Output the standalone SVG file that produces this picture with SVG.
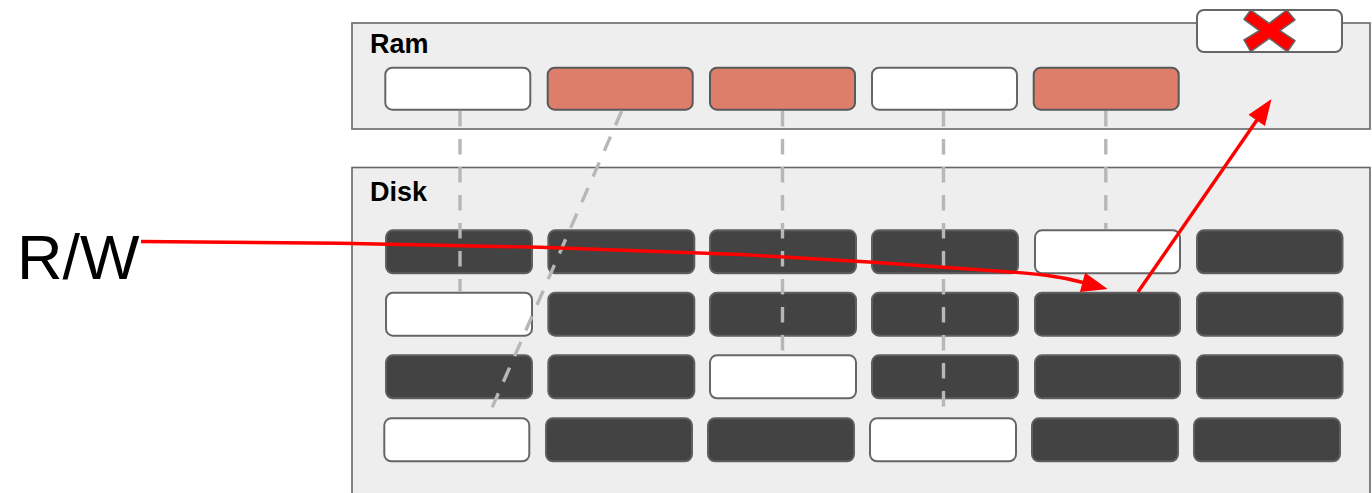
<svg xmlns="http://www.w3.org/2000/svg" width="1372" height="493" viewBox="0 0 1372 493">
<style>
.frame{fill:#eeeeee;stroke:#666666;stroke-width:1.6}
.lbl{font-family:"Liberation Sans",Arial,sans-serif;font-weight:bold;font-size:27px;fill:#000}
.w{fill:#ffffff;stroke:#666666;stroke-width:2}
.r{fill:#dd7e6b;stroke:#595959;stroke-width:2}
.d{fill:#434343;stroke:#5f5f5f;stroke-width:2}
.dash{stroke:#b7b7b7;stroke-width:3.4;stroke-dasharray:15.5 12.5;fill:none}
.red{stroke:#ff0000;stroke-width:3.4;fill:none}
</style>
<defs>
<marker id="ah" markerUnits="userSpaceOnUse" markerWidth="30" markerHeight="24" refX="0.5" refY="10" orient="auto" overflow="visible">
<path d="M0,0 L26,10 L0,20 Z" fill="#ff0000"/>
</marker>
</defs>
<g id="ram">
<rect class="frame" x="352" y="23" width="1018" height="106"/>
<text class="lbl" x="370" y="53">Ram</text>
</g>
<g id="disk">
<rect class="frame" x="352" y="167.5" width="1018" height="340"/>
<text class="lbl" x="370" y="201">Disk</text>
</g>
<g id="ram-blocks">
<rect id="ram1" class="w" x="385.3" y="67.7" width="145" height="42" rx="7"/>
<rect id="ram2" class="r" x="547.7" y="67.7" width="145" height="42" rx="7"/>
<rect id="ram3" class="r" x="710" y="67.7" width="145" height="42" rx="7"/>
<rect id="ram4" class="w" x="872" y="67.7" width="145" height="42" rx="7"/>
<rect id="ram5" class="r" x="1033.7" y="67.7" width="145" height="42" rx="7"/>
</g>
<g id="evicted">
<rect class="w" x="1197" y="10" width="145" height="42" rx="7"/>
<polygon points="1250.7,10 1269.3,23.3 1286.7,10 1295,20 1280,30.7 1295,40.7 1287.3,51.7 1269.3,38.3 1250.7,51.7 1244,40 1259.3,30.7 1244,19.3" fill="#ff0000" stroke="#666666" stroke-width="1.5" stroke-linejoin="round"/>
</g>
<g id="disk-blocks">
<rect id="d11" class="d" x="386" y="230.3" width="146" height="43" rx="7"/>
<rect id="d12" class="d" x="548.3" y="230.3" width="146" height="43" rx="7"/>
<rect id="d13" class="d" x="710" y="230.3" width="146" height="43" rx="7"/>
<rect id="d14" class="d" x="872" y="230.3" width="146" height="43" rx="7"/>
<rect id="d15" class="w" x="1035" y="230.3" width="145" height="43" rx="7"/>
<rect id="d16" class="d" x="1197" y="230.3" width="145.5" height="43" rx="7"/>

<rect id="d21" class="w" x="386" y="292.7" width="146" height="43" rx="7"/>
<rect id="d22" class="d" x="548.3" y="292.7" width="146" height="43" rx="7"/>
<rect id="d23" class="d" x="710" y="292.7" width="146" height="43" rx="7"/>
<rect id="d24" class="d" x="872" y="292.7" width="146" height="43" rx="7"/>
<rect id="d25" class="d" x="1035" y="292.7" width="145" height="43" rx="7"/>
<rect id="d26" class="d" x="1197" y="292.7" width="145.5" height="43" rx="7"/>

<rect id="d31" class="d" x="386" y="355.3" width="146" height="43" rx="7"/>
<rect id="d32" class="d" x="548.3" y="355.3" width="146" height="43" rx="7"/>
<rect id="d33" class="w" x="710" y="355.3" width="146" height="43" rx="7"/>
<rect id="d34" class="d" x="872" y="355.3" width="146" height="43" rx="7"/>
<rect id="d35" class="d" x="1035" y="355.3" width="145" height="43" rx="7"/>
<rect id="d36" class="d" x="1197" y="355.3" width="145.5" height="43" rx="7"/>

<rect id="d41" class="w" x="384.3" y="418.3" width="145" height="43" rx="7"/>
<rect id="d42" class="d" x="546" y="418.3" width="146" height="43" rx="7"/>
<rect id="d43" class="d" x="708" y="418.3" width="146" height="43" rx="7"/>
<rect id="d44" class="w" x="870" y="418.3" width="146" height="43" rx="7"/>
<rect id="d45" class="d" x="1032" y="418.3" width="146" height="43" rx="7"/>
<rect id="d46" class="d" x="1194" y="418.3" width="146" height="43" rx="7"/>
</g>
<g id="rw">
<text x="17" y="279" font-family="'Liberation Sans',Arial,sans-serif" font-size="63" fill="#000">R/W</text>
</g>
<g id="connectors">
<line class="dash" x1="460" y1="111" x2="460" y2="292"/>
<line class="dash" x1="621.7" y1="111" x2="488" y2="417"/>
<line class="dash" x1="782.5" y1="111" x2="782.5" y2="354"/>
<line class="dash" x1="943.5" y1="111" x2="943.5" y2="417"/>
<line class="dash" x1="1105.8" y1="111" x2="1105.8" y2="229"/>
<path class="red" marker-end="url(#ah)" d="M141,241.5 L340,243.3 L540,247.3 L740,254.5 L873,262.3 L1007,271.7 C1030,273.5 1055,275 1083,282.5"/>
<path class="red" marker-end="url(#ah)" d="M1138,292 L1257,120"/>
</g>
</svg>
